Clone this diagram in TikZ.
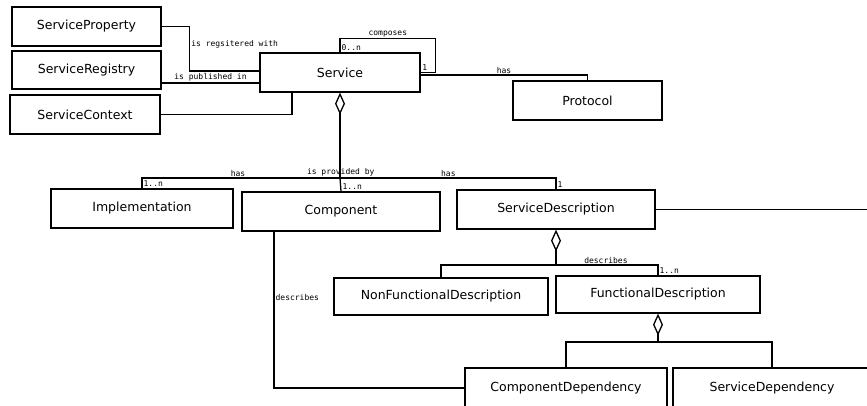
\documentclass[tikz,border=0pt]{standalone}
\usepackage{fontspec}
\setsansfont{DejaVu Sans}
\setmonofont{DejaVu Sans Mono}
\usetikzlibrary{arrows.meta}

\begin{document}
\begin{tikzpicture}[x=1pt,y=-1pt,line width=1.3pt,
    cls/.style={draw,minimum height=39pt,inner sep=0pt,font=\sffamily\fontsize{12.5}{15}\selectfont},
    lbl/.style={font=\ttfamily\fontsize{8}{9}\selectfont,inner sep=1pt},
    agg/.style={{Diamond[open,length=22pt,width=10pt]}-}]
    \useasboundingbox (0,0) rectangle (867,405);

    \node[cls,minimum width=149pt](prop) at (86.5,26.5){ServiceProperty};
    \node[cls,minimum width=149pt,minimum height=38pt](reg) at (86.5,70){ServiceRegistry};
    \node[cls,minimum width=150pt](ctx) at (85,114.5){ServiceContext};
    \node[cls,minimum width=160pt](srv) at (340,72.5){Service};
    \node[cls,minimum width=149pt](proto) at (587.5,100.5){Protocol};
    \node[cls,minimum width=182pt](impl) at (142,208.5){Implementation};
    \node[cls,minimum width=198pt](comp) at (341,211.5){Component};
    \node[cls,minimum width=198pt](sdesc) at (556,209.5){ServiceDescription};
    \node[cls,minimum width=214pt,minimum height=37pt](nfd) at (441,296.5){NonFunctionalDescription};
    \node[cls,minimum width=204pt,minimum height=37pt](fd) at (658,294.5){FunctionalDescription};
    \node[cls,minimum width=202pt,minimum height=40pt](cdep) at (566,388){ComponentDependency};
    \node[cls,minimum width=198pt,minimum height=40pt](sdep) at (772,388){ServiceDependency};

    \coordinate (j1) at (340,178);
    \coordinate (j2) at (556,265);
    \coordinate (j3) at (658,342);
    \coordinate (sdout) at (870,210);

    \draw(prop.east) -- ++(28,0) |- node[lbl,pos=0.2,right]{is regsitered with} ([yshift=1.5pt]srv.west);
    \draw([yshift=-13pt]reg.east) coordinate (r) -- node[lbl,above]{is published in} (r -| srv.west);
    \draw(ctx.east) -| ([xshift=-48pt]srv.south);
    \draw(srv.north) node[lbl,above right]{0..n} -- ++(0,-14) -| node[lbl,pos=0.25,above]{composes} ([xshift=15pt]srv.east) -- (srv.east) node[lbl,above right]{1};
    \draw([yshift=-2.5pt]srv.east) -| node[lbl,pos=0.25,above]{has} (proto.north);

    \draw[agg](srv.south) -- (j1);
    \draw(impl.north) node[lbl,above right]{1..n} |- node[lbl,pos=0.616,above]{has} node[lbl,pos=0.74,above]{is provided by} node[lbl,pos=0.87,above]{has} (sdesc.north |- j1) -- (sdesc.north) node[lbl,above right]{1};
    \draw(j1) -- (comp.north) node[lbl,above right]{1..n};
    \draw(sdesc.east) -- (sdesc.east -| sdout);

    \draw[agg](sdesc.south) -- (j2);
    \draw(nfd.north) |- node[lbl,pos=0.88,above]{describes} (fd.north |- j2) -- (fd.north) node[lbl,above right]{1..n};
    \draw([xshift=-67pt]comp.south) |- node[lbl,pos=0.21,right]{describes} (cdep.west);

    \draw[agg](fd.south) -- (j3);
    \draw(cdep.north) |- (sdep.north |- j3) -- (sdep.north);
\end{tikzpicture}
\end{document}
